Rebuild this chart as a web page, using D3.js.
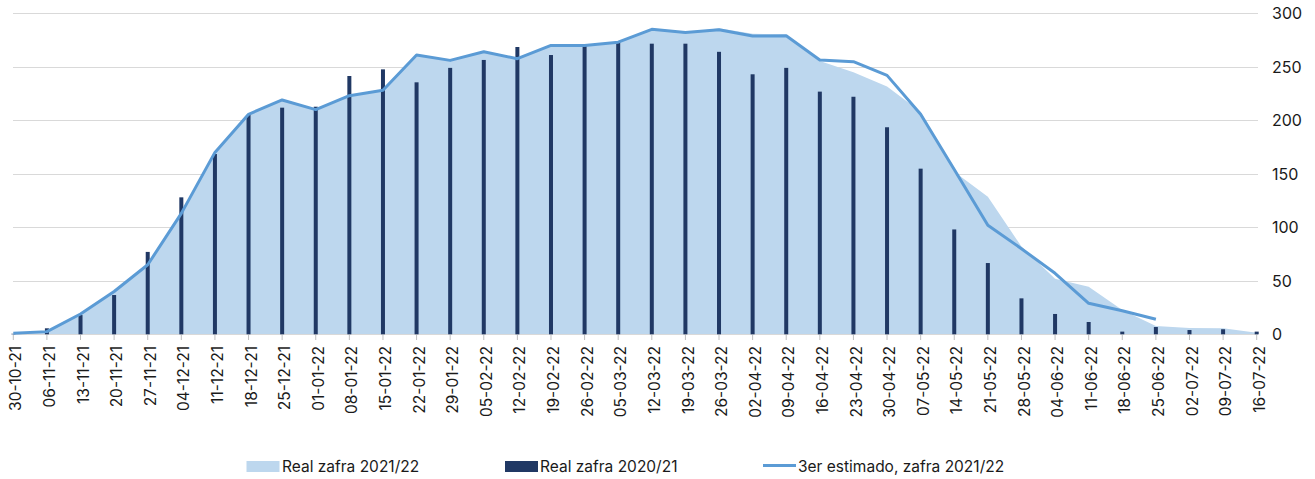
<!DOCTYPE html>
<html>
<head>
<meta charset="utf-8">
<script src="https://cdn.jsdelivr.net/npm/d3@7"></script>
<style>
  body { margin: 0; background: #fff; }
  text { font-family: Inter, "Open Sans", sans-serif; fill: #1a1a1a; }
</style>
</head>
<body>
<div id="chart"></div>
<script>
var weeks = ['30-10-21','06-11-21','13-11-21','20-11-21','27-11-21','04-12-21','11-12-21','18-12-21',
  '25-12-21','01-01-22','08-01-22','15-01-22','22-01-22','29-01-22','05-02-22','12-02-22','19-02-22',
  '26-02-22','05-03-22','12-03-22','19-03-22','26-03-22','02-04-22','09-04-22','16-04-22','23-04-22',
  '30-04-22','07-05-22','14-05-22','21-05-22','28-05-22','04-06-22','11-06-22','18-06-22','25-06-22',
  '02-07-22','09-07-22','16-07-22'];

// Real zafra 2021/22 (area)
var real2122 = [0, 2.5, 19, 40, 65, 113, 170, 205.6, 219, 210, 223, 228, 261, 256, 264, 257.6, 270,
  270, 273, 285, 282, 286, 281, 280, 255.5, 245, 231.6, 208, 152, 128.6, 82, 52, 44.5, 22.7, 7.8,
  6, 5.6, 1.5];

// Real zafra 2020/21 (bars)
var real2021 = [0.5, 5.6, 18, 36.7, 77, 128, 168.5, 205, 211.8, 212.7, 241.4, 247.6, 235.5, 249,
  256.4, 268.5, 261, 271, 273.5, 271.6, 271.6, 264, 243, 249, 226.8, 222, 193.5, 154.8, 98, 66.6,
  33.6, 19, 11.5, 2.5, 6.8, 4, 4.7, 2.5];

// 3er estimado, zafra 2021/22 (line, ends 25-06-22)
var est2122 = [1, 2.5, 19, 40, 65, 113, 170, 205.6, 219, 210, 223, 228, 261, 256, 264, 257.6, 270,
  270, 273, 285, 282, 284.7, 278.8, 279, 256.4, 254.8, 242, 205.6, 154, 102, 80, 57, 29, 22, 14];

var yTicks = [0, 50, 100, 150, 200, 250, 300];

var width = 1315, height = 479;
var svg = d3.select('#chart').append('svg')
  .attr('width', width)
  .attr('height', height);

var x = d3.scalePoint()
  .domain(weeks)
  .range([13.3, 1256.7]);

var y = d3.scaleLinear()
  .domain([0, 300])
  .range([334.3, 13.3]);

// gridlines
svg.append('g').selectAll('line')
  .data(yTicks)
  .enter().append('line')
    .attr('x1', 13)
    .attr('x2', 1258)
    .attr('y1', function(d) { return Math.round(y(d)) + 0.5; })
    .attr('y2', function(d) { return Math.round(y(d)) + 0.5; })
    .attr('stroke', '#d9d9d9')
    .attr('stroke-width', 1);

// area
var area = d3.area()
  .x(function(d, i) { return x(weeks[i]); })
  .y0(y(0))
  .y1(function(d) { return y(d); });

svg.append('path')
  .datum(real2122)
  .attr('d', area)
  .attr('fill', '#bdd7ee');

// x axis ticks
svg.append('g').selectAll('line')
  .data(weeks)
  .enter().append('line')
    .attr('x1', function(d) { return x(d); })
    .attr('x2', function(d) { return x(d); })
    .attr('y1', 334)
    .attr('y2', 340)
    .attr('stroke', '#bfbfbf');

svg.append('line')
  .attr('x1', 13).attr('x2', 1258)
  .attr('y1', 334.5).attr('y2', 334.5)
  .attr('stroke', '#d9d9d9');

// bars
svg.append('g').selectAll('rect')
  .data(real2021)
  .enter().append('rect')
    .attr('x', function(d, i) { return x(weeks[i]) - 2; })
    .attr('width', 4)
    .attr('y', function(d) { return y(d); })
    .attr('height', function(d) { return y(0) - y(d); })
    .attr('fill', '#203864');

// line
var line = d3.line()
  .x(function(d, i) { return x(weeks[i]); })
  .y(function(d) { return y(d); });

svg.append('path')
  .datum(est2122)
  .attr('d', line)
  .attr('fill', 'none')
  .attr('stroke', '#5b9bd5')
  .attr('stroke-width', 3)
  .attr('stroke-linejoin', 'round');

// right y labels
svg.append('g').selectAll('text')
  .data(yTicks)
  .enter().append('text')
    .attr('x', 1272)
    .attr('y', function(d) { return y(d); })
    .attr('dy', '0.36em')
    .attr('font-size', '16px')
    .text(function(d) { return d; });

// x labels
svg.append('g').selectAll('text')
  .data(weeks)
  .enter().append('text')
    .attr('transform', function(d) { return 'translate(' + (x(d) + 2.5) + ',346) rotate(-90)'; })
    .attr('text-anchor', 'end')
    .attr('dy', '0.36em')
    .attr('font-size', '15.5px')
    .text(function(d) { return d; });

// legend
var legend = svg.append('g');
legend.append('rect').attr('x', 246.5).attr('y', 461).attr('width', 33).attr('height', 11).attr('fill', '#bdd7ee');
legend.append('text').attr('x', 282).attr('y', 466.5).attr('dy', '0.36em').attr('font-size', '15.5px').text('Real zafra 2021/22');
legend.append('rect').attr('x', 505).attr('y', 461).attr('width', 33).attr('height', 11).attr('fill', '#203864');
legend.append('text').attr('x', 540).attr('y', 466.5).attr('dy', '0.36em').attr('font-size', '15.5px').text('Real zafra 2020/21');
legend.append('line').attr('x1', 763).attr('x2', 796).attr('y1', 465.5).attr('y2', 465.5)
  .attr('stroke', '#5b9bd5').attr('stroke-width', 3);
legend.append('text').attr('x', 798).attr('y', 466.5).attr('dy', '0.36em').attr('font-size', '15.5px').text('3er estimado, zafra 2021/22');
</script>
</body>
</html>
